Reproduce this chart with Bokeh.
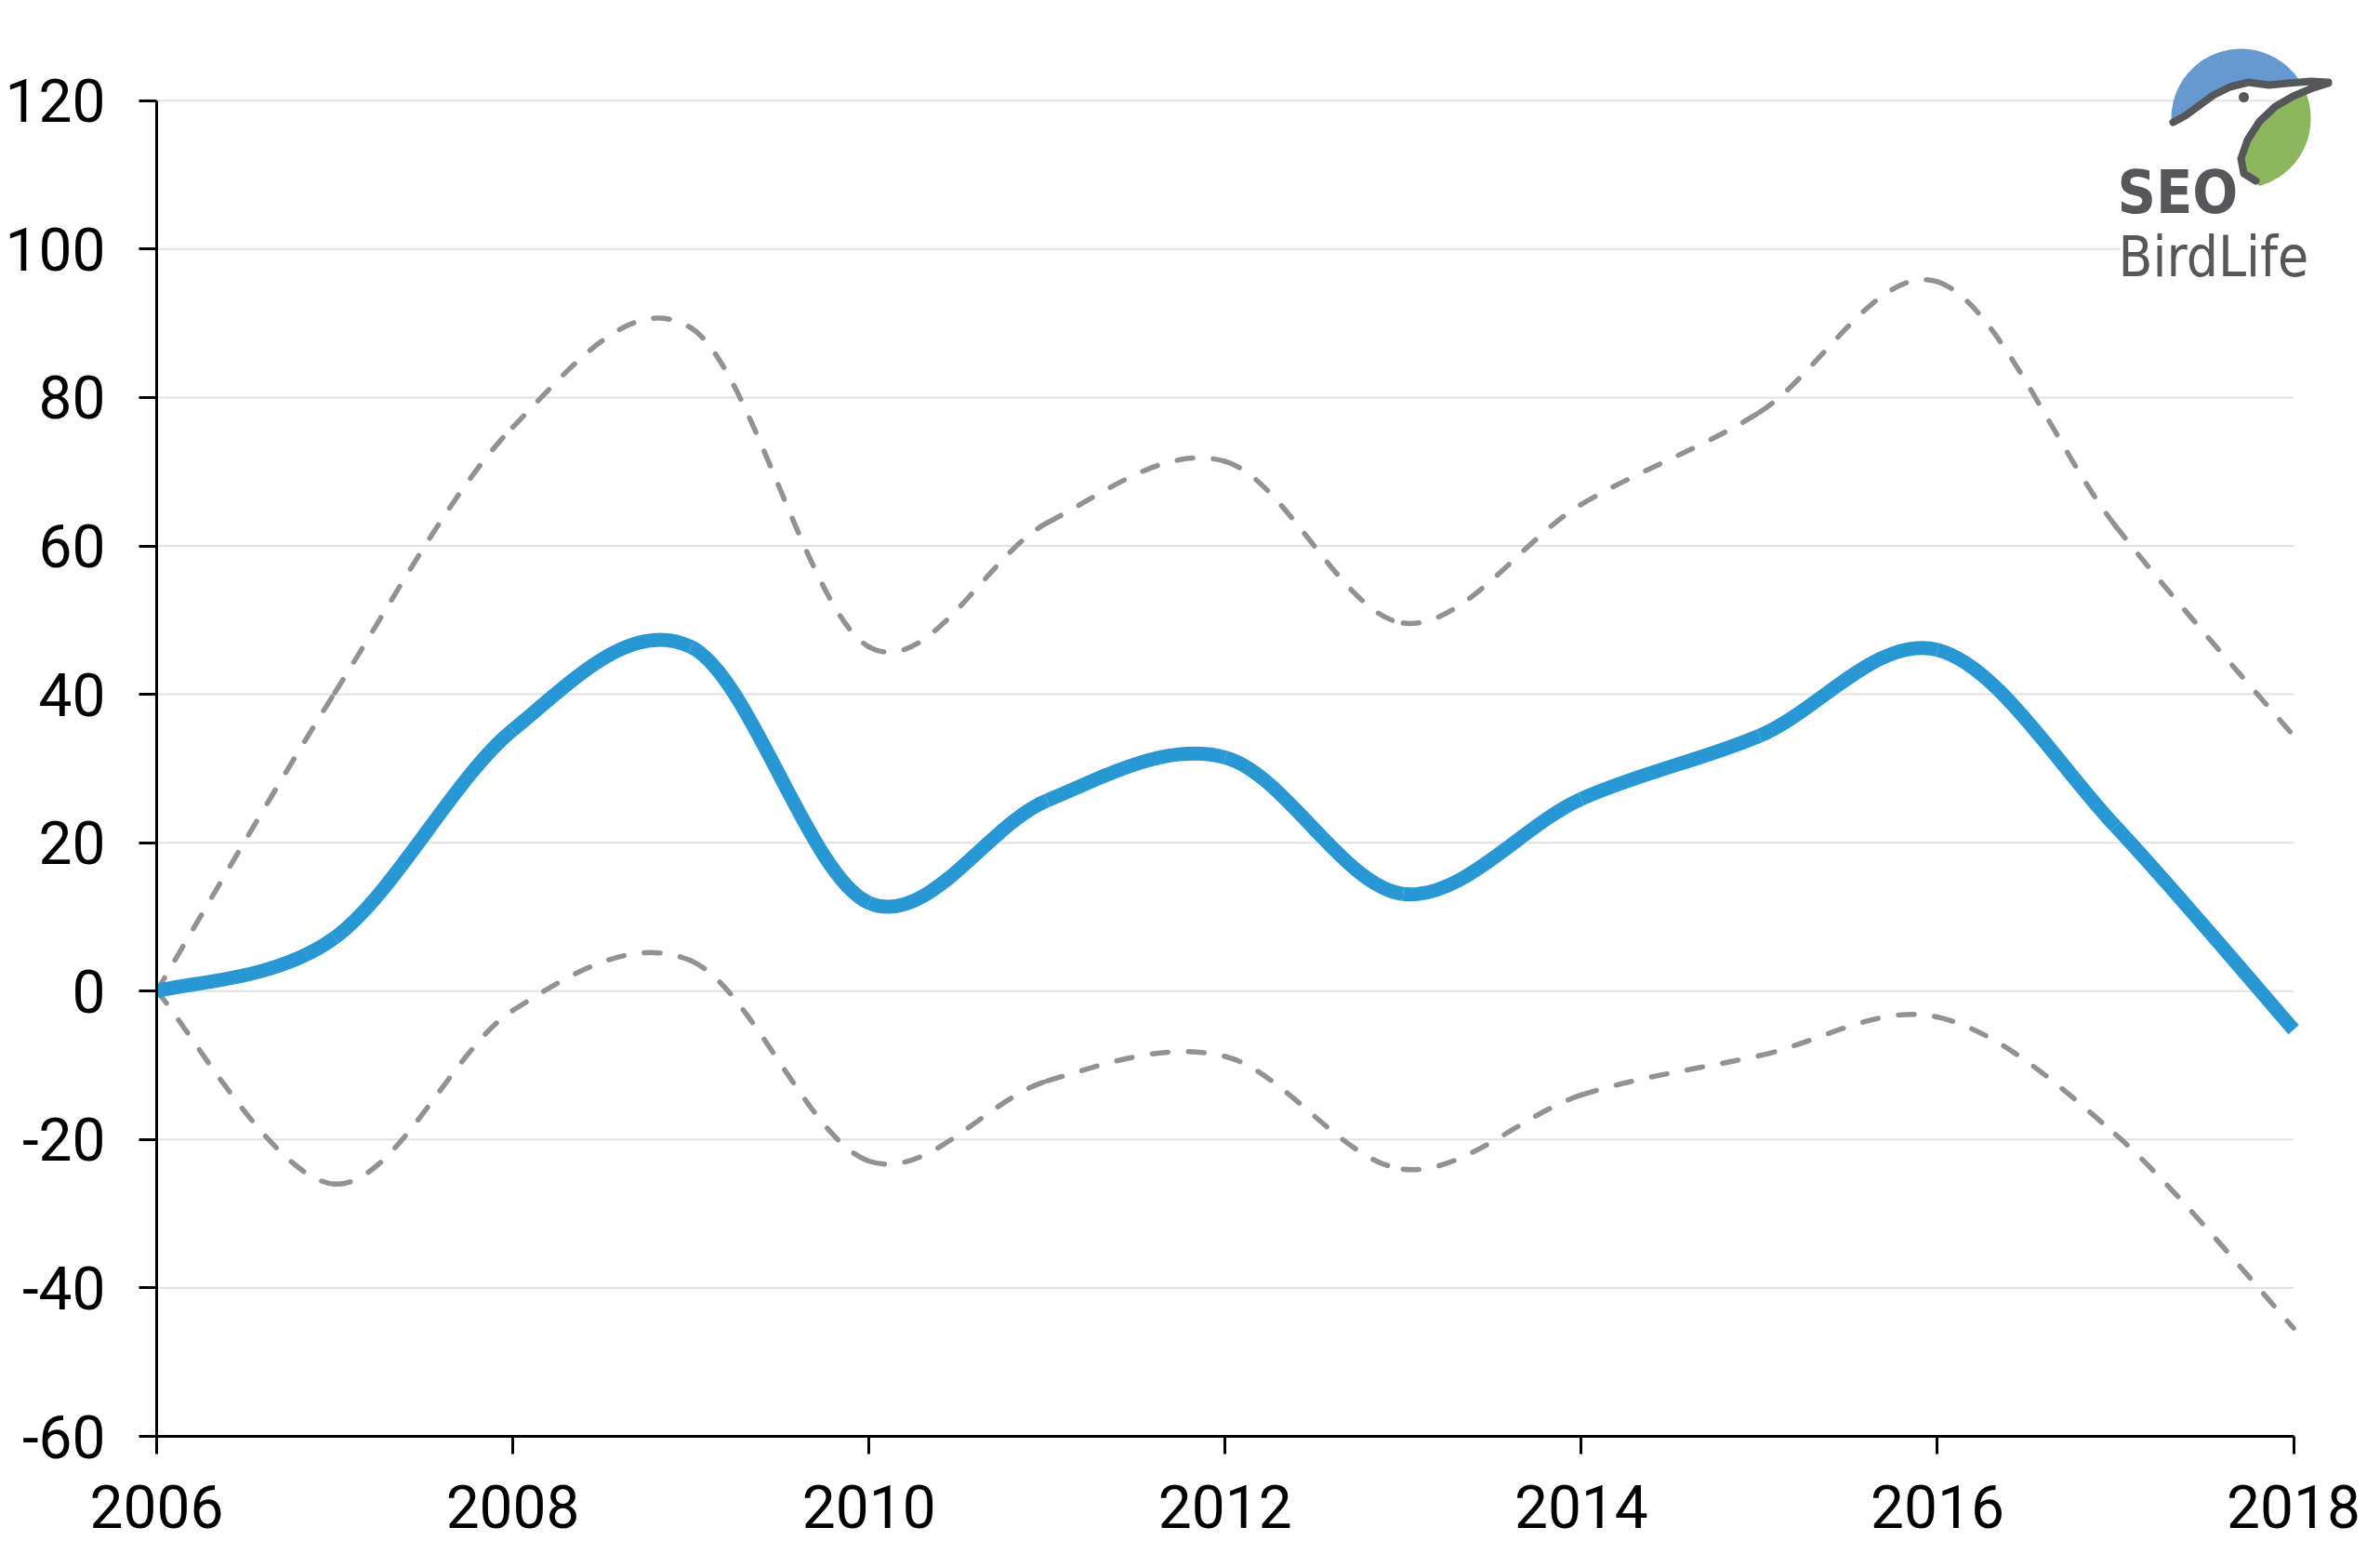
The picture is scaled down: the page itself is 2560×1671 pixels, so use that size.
import numpy as np
from bokeh.plotting import figure
from bokeh.models import FixedTicker, Label, ColumnDataSource
from bokeh.embed import file_html
from bokeh.resources import INLINE

# ---------------- data ----------------
years = [2006, 2007, 2008, 2009, 2010, 2011, 2012, 2013, 2014, 2015, 2016, 2017, 2018]
trend = [0, 7.2, 35.2, 46.4, 11.9, 25.7, 31.5, 13.1, 25.9, 34.4, 46.0, 22.2, -5.2]
upper = [0, 40.2, 76.0, 89.4, 46.4, 63.1, 71.4, 49.6, 65.6, 78.0, 95.6, 62.7, 34.4]
lower = [0, -26.0, -2.6, 4.1, -22.9, -12.1, -8.8, -24.0, -14.0, -8.7, -3.5, -19.3, -45.4]

x_ticks = [2006, 2008, 2010, 2012, 2014, 2016, 2018]
x_tick_labels = ["2006", "2008", "2010", "2012", "2014", "2016", "2018"]
y_ticks = [-60, -40, -20, 0, 20, 40, 60, 80, 100, 120]
y_tick_labels = ["-60", "-40", "-20", "0", "20", "40", "60", "80", "100", "120"]

# ---------------- layout ----------------
X_START, X_END = 2006, 2018.3
Y_START, Y_END = -60, 130
FRAME_W, FRAME_H = 2356, 1516
BORDER_L, BORDER_R, BORDER_T, BORDER_B = 168, 36, 28, 127

BLUE = "#2898d4"
GREY = "#929292"
TICK_FONT = "Roboto"


def smooth_source(xs, ys):
    """Bezier control points (Excel-style smoothed line) derived from the data."""
    x = np.asarray(xs, float)
    y = np.asarray(ys, float)
    n = len(x)
    xp = np.concatenate([[x[0]], x, [x[-1]]])
    yp = np.concatenate([[y[0]], y, [y[-1]]])
    return ColumnDataSource(dict(
        x0=x[:-1], y0=y[:-1], x1=x[1:], y1=y[1:],
        cx0=x[:-1] + (xp[2:n + 1] - xp[0:n - 1]) / 6.0,
        cy0=y[:-1] + (yp[2:n + 1] - yp[0:n - 1]) / 6.0,
        cx1=x[1:] - (xp[3:n + 2] - xp[1:n]) / 6.0,
        cy1=y[1:] - (yp[3:n + 2] - yp[1:n]) / 6.0,
    ))


p = figure(frame_width=FRAME_W, frame_height=FRAME_H,
           x_range=(X_START, X_END), y_range=(Y_START, Y_END),
           min_border_left=BORDER_L, min_border_right=BORDER_R,
           min_border_top=BORDER_T, min_border_bottom=BORDER_B,
           output_backend="svg", toolbar_location=None,
           background_fill_color="white", border_fill_color="white")
p.outline_line_color = None
p.xgrid.visible = False
p.ygrid.visible = False

# axes
for ax in (p.xaxis[0], p.yaxis[0]):
    ax.axis_line_color = "black"
    ax.axis_line_width = 3
    ax.major_tick_line_color = "black"
    ax.major_tick_line_width = 3
    ax.major_tick_out = 19
    ax.major_tick_in = 0
    ax.minor_tick_line_color = None
    ax.major_label_text_font = TICK_FONT
    ax.major_label_text_font_size = "64px"
    ax.major_label_text_color = "black"

p.xaxis.ticker = FixedTicker(ticks=x_ticks)
p.xaxis.major_label_overrides = {t: s for t, s in zip(x_ticks, x_tick_labels)}
p.xaxis.bounds = (x_ticks[0], x_ticks[-1])
p.xaxis.major_label_standoff = 33

p.yaxis.ticker = FixedTicker(ticks=y_ticks)
p.yaxis.major_label_overrides = {t: s for t, s in zip(y_ticks, y_tick_labels)}
p.yaxis.bounds = (y_ticks[0], y_ticks[-1])
p.yaxis.major_label_standoff = 36

# horizontal gridlines (only across the year span)
grid_vals = y_ticks[1:]
p.segment(x0=[x_ticks[0]] * len(grid_vals), y0=grid_vals,
          x1=[x_ticks[-1]] * len(grid_vals), y1=grid_vals,
          line_color="#e2e2e2", line_width=2)

# ---------------- logo helpers (screen pixel geometry -> data) ----------------
SX0 = BORDER_L
SY0 = BORDER_T
PX_X = FRAME_W / (X_END - X_START)
PX_Y = FRAME_H / (Y_END - Y_START)


def to_data(pts):
    pts = np.asarray(pts, float)
    return (X_START + (pts[:, 0] - SX0) / PX_X).tolist(), (Y_END - (pts[:, 1] - SY0) / PX_Y).tolist()


# white backing behind the logo text
bx, by = to_data([(2280, 140), (2540, 140), (2540, 305), (2280, 305)])
p.patch(bx, by, fill_color="white", line_color=None)

# ---------------- series ----------------
p.bezier(x0="x0", y0="y0", x1="x1", y1="y1", cx0="cx0", cy0="cy0", cx1="cx1", cy1="cy1",
         source=smooth_source(years, upper), line_color=GREY, line_width=5.5,
         line_dash="17 22", line_cap="round")
p.bezier(x0="x0", y0="y0", x1="x1", y1="y1", cx0="cx0", cy0="cy0", cx1="cx1", cy1="cy1",
         source=smooth_source(years, lower), line_color=GREY, line_width=5.5,
         line_dash="17 22", line_cap="round")
p.bezier(x0="x0", y0="y0", x1="x1", y1="y1", cx0="cx0", cy0="cy0", cx1="cx1", cy1="cy1",
         source=smooth_source(years, trend), line_color=BLUE, line_width=15,
         line_cap="butt")

# ---------------- SEO BirdLife logo ----------------
LOGO_DARK = "#56575a"
cx, cy, r = 2410, 127, 75
head = [(2337, 131), (2350, 124), (2365, 113), (2380, 102), (2398, 93), (2418, 88),
        (2440, 91), (2460, 89), (2485, 87), (2504, 88)]
throat = [(2504, 89), (2485, 95), (2466, 103), (2447, 114), (2430, 130), (2417, 150),
          (2410, 170), (2413, 186), (2426, 194)]

th = np.radians(np.linspace(180, 30, 60))
blue_pts = [(cx + r * np.cos(t), cy - r * np.sin(t)) for t in th]
blue_pts += [q for q in reversed(head) if q[0] < 2476]
xs, ys = to_data(blue_pts)
p.patch(xs, ys, fill_color="#6699cf", line_color=None)

th = np.radians(np.linspace(20, -75, 50))
green_pts = [(cx + r * np.cos(t), cy - r * np.sin(t)) for t in th]
green_pts += [q for q in reversed(throat) if q[0] < 2482]
xs, ys = to_data(green_pts)
p.patch(xs, ys, fill_color="#8bb65d", line_color=None)

xs, ys = to_data(head + throat)
p.line(xs, ys, line_color=LOGO_DARK, line_width=8, line_join="round", line_cap="round")
ex, ey = to_data([(2413, 104)])
p.scatter(ex, ey, size=11, fill_color=LOGO_DARK, line_color=None)

LOGO_FONT = "'DejaVu Sans Condensed', 'Liberation Sans Narrow', sans-serif"
SEO_SIZE, BIRD_SIZE = 64, 60
lx, ly = to_data([(2282 - 5, 228 - 0.33 * SEO_SIZE), (2283 - 5, 295 - 0.33 * BIRD_SIZE)])
p.add_layout(Label(x=lx[0], y=ly[0], text="SEO", text_font=LOGO_FONT,
                   text_font_style="bold", text_font_size=f"{SEO_SIZE}px", text_color=LOGO_DARK,
                   text_baseline="alphabetic", text_align="left"))
p.add_layout(Label(x=lx[1], y=ly[1], text="BirdLife", text_font=LOGO_FONT,
                   text_font_style="normal", text_font_size=f"{BIRD_SIZE}px", text_color=LOGO_DARK,
                   text_baseline="alphabetic", text_align="left"))

open("out.html", "w").write(file_html(p, INLINE))
